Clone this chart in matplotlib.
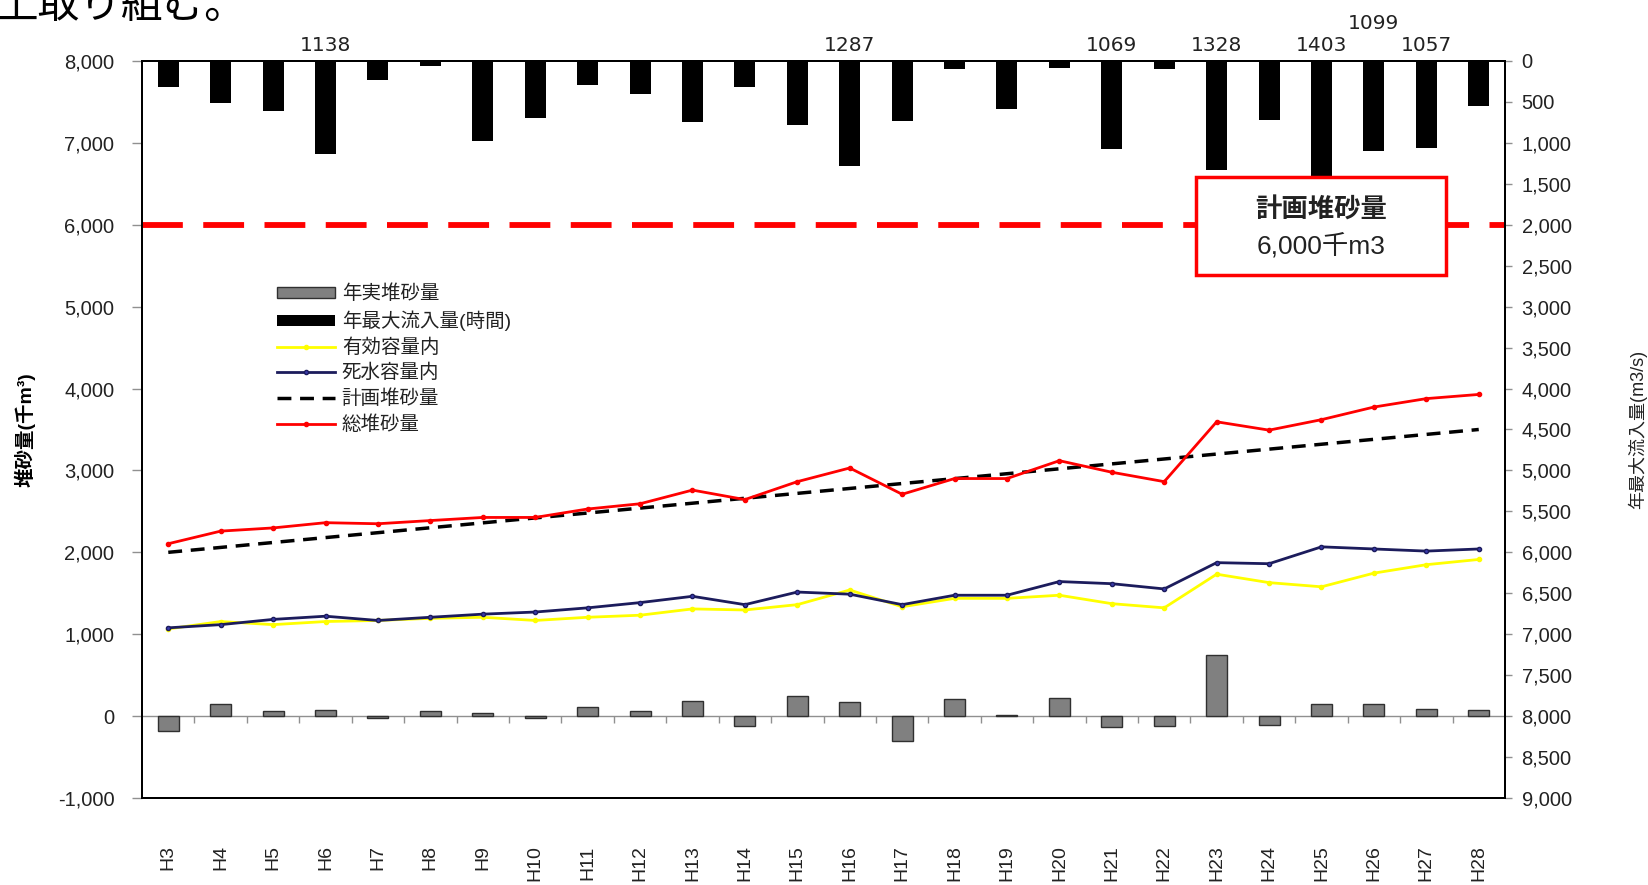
import matplotlib.pyplot as plt
from matplotlib.patches import Rectangle, Patch
from matplotlib.lines import Line2D
from matplotlib.ticker import FuncFormatter, MultipleLocator

plt.rcParams["font.family"] = ["Liberation Sans", "Noto Sans CJK JP", "DejaVu Sans"]

YEARS = ["H3", "H4", "H5", "H6", "H7", "H8", "H9", "H10", "H11", "H12", "H13",
         "H14", "H15", "H16", "H17", "H18", "H19", "H20", "H21", "H22", "H23",
         "H24", "H25", "H26", "H27", "H28"]

# 年実堆砂量 (千m3)
ANNUAL = [-180, 154, 64, 77, -26, 64, 38, -20, 115, 64, 180, -115, 244, 167,
          -308, 205, 13, 218, -128, -115, 745, -103, 154, 154, 90, 77]
# 年最大流入量 (m3/s)
FLOW = [320, 510, 616, 1138, 231, 64, 976, 693, 295, 398, 745, 321, 783, 1287,
        732, 103, 591, 90, 1069, 103, 1328, 719, 1403, 1099, 1057, 552]
# 有効容量内
EFFECTIVE = [1065, 1155, 1117, 1155, 1168, 1194, 1207, 1168, 1207, 1232, 1309,
             1296, 1361, 1540, 1335, 1438, 1438, 1476, 1373, 1322, 1733, 1630,
             1579, 1746, 1849, 1913]
# 死水容量内
DEAD = [1078, 1117, 1181, 1220, 1168, 1207, 1245, 1271, 1322, 1386, 1463, 1361,
        1515, 1489, 1361, 1476, 1476, 1643, 1617, 1553, 1874, 1861, 2067, 2041,
        2015, 2041]
# 計画堆砂量 (年次)
PLAN = [2000, 2060, 2120, 2180, 2240, 2300, 2360, 2420, 2480, 2540, 2600, 2660,
        2720, 2780, 2840, 2900, 2960, 3020, 3080, 3140, 3200, 3260, 3320, 3380,
        3440, 3500]
# 総堆砂量
TOTAL = [2105, 2259, 2298, 2362, 2349, 2388, 2426, 2426, 2529, 2593, 2760, 2644,
         2863, 3030, 2709, 2901, 2901, 3119, 2978, 2863, 3594, 3492, 3620, 3774,
         3877, 3928]

PLAN_CAPACITY = 6000
LABEL_MIN = 1000
RAISED_LABELS = ["H26"]

GRAY = "#808080"
YELLOW = "#FFFF00"
NAVY = "#1C1C5C"
RED = "#FF0000"
TXT = "#222222"

comma = FuncFormatter(lambda v, p: f"{v:,.0f}")

fig = plt.figure(figsize=(16.48, 8.85), dpi=100, facecolor="white")
ax = fig.add_axes([0.0862, 0.0983, 0.8270, 0.8328])
ax2 = ax.twinx()

x = list(range(len(YEARS)))

ax.bar(x, ANNUAL, width=0.4, color=GRAY, edgecolor="#303030", linewidth=1, zorder=2)
ax.plot(x, EFFECTIVE, color=YELLOW, lw=2, marker="o", ms=3, zorder=3)
ax.plot(x, DEAD, color=NAVY, lw=2, marker="o", ms=3, mfc="#3A3AAA", zorder=3)
ax.plot(x, PLAN, color="black", lw=2.5, ls=(0, (4, 2.5)), zorder=3)
ax.plot(x, TOTAL, color=RED, lw=2, marker="o", ms=3, zorder=3)
ax.axhline(PLAN_CAPACITY, color=RED, lw=4.2, ls=(0, (7, 3.5)), zorder=2)
ax.axhline(0, color="#909090", lw=1, zorder=1)
ax.vlines([i + 0.5 for i in x[:-1]], -80, 0, color="#909090", lw=1, zorder=1)

ax.set_xlim(-0.5, len(YEARS) - 0.5)
ax.set_ylim(-1000, 8000)
ax.yaxis.set_major_locator(MultipleLocator(1000))
ax.yaxis.set_major_formatter(comma)
ax.set_xticks(x)
ax.set_xticklabels(YEARS, rotation=90, fontsize=14, color=TXT)
ax.tick_params(axis="x", length=0, pad=34)
ax.tick_params(axis="y", labelsize=14.5, labelcolor=TXT, direction="out",
               length=7, width=1, color="#909090", pad=13)
ax.set_ylabel("堆砂量(千m³)", fontsize=14, fontweight="bold")
ax.yaxis.set_label_coords(-0.078, 0.5)

ax2.bar(x, FLOW, width=0.4, color="black", zorder=2)
ax2.set_ylim(9000, 0)
ax2.yaxis.set_major_locator(MultipleLocator(500))
ax2.yaxis.set_major_formatter(comma)
ax2.tick_params(axis="y", labelsize=14.5, labelcolor=TXT, direction="out",
                length=5, width=1, color="#909090", pad=7)
ax2.set_ylabel("年最大流入量(m3/s)", fontsize=13, color=TXT)
ax2.yaxis.set_label_coords(1.09, 0.5)

for i, (yr, v) in enumerate(zip(YEARS, FLOW)):
    if v > LABEL_MIN:
        off = 20 if yr in RAISED_LABELS else 4
        ax2.annotate(f"{v}", xy=(i, 1), xycoords=("data", "axes fraction"),
                     xytext=(0, off), textcoords="offset points",
                     ha="center", va="bottom", fontsize=14.5,
                     family="DejaVu Sans", color=TXT)

for a in (ax, ax2):
    for s in a.spines.values():
        s.set_color("black")
        s.set_linewidth(1.4)

# 計画堆砂量 box
ax2.add_patch(Rectangle((0.773, 0.710), 0.184, 0.133, transform=ax2.transAxes,
                        facecolor="white", edgecolor=RED, lw=2.5, zorder=5))
ax2.text(0.865, 0.798, "計画堆砂量", transform=ax2.transAxes, ha="center",
         va="center", fontsize=19, fontweight="bold", color=TXT, zorder=6)
ax2.text(0.865, 0.749, "6,000千m3", transform=ax2.transAxes, ha="center",
         va="center", fontsize=19, color=TXT, zorder=6)

handles = [
    Patch(facecolor=GRAY, edgecolor="#303030"),
    Patch(facecolor="black"),
    Line2D([], [], color=YELLOW, lw=2, marker="o", ms=3),
    Line2D([], [], color=NAVY, lw=2, marker="o", ms=3, mfc="#3A3AAA"),
    Line2D([], [], color="black", lw=2.5, ls=(0, (4, 2.5))),
    Line2D([], [], color=RED, lw=2, marker="o", ms=3),
]
labels = ["年実堆砂量", "年最大流入量(時間)", "有効容量内", "死水容量内", "計画堆砂量", "総堆砂量"]
leg = ax2.legend(handles, labels, loc="upper left", bbox_to_anchor=(0.093, 0.707),
                 frameon=False, fontsize=14, handlelength=3.0, handleheight=0.5,
                 labelspacing=0.37, handletextpad=0.35, borderaxespad=0)
for t in leg.get_texts():
    t.set_color(TXT)
leg.set_zorder(7)

fig.text(-0.002, 1 - 27 / 885, "上取り組む。", fontsize=30, va="bottom", ha="left")

fig.savefig("out.png", dpi=100, facecolor="white")
